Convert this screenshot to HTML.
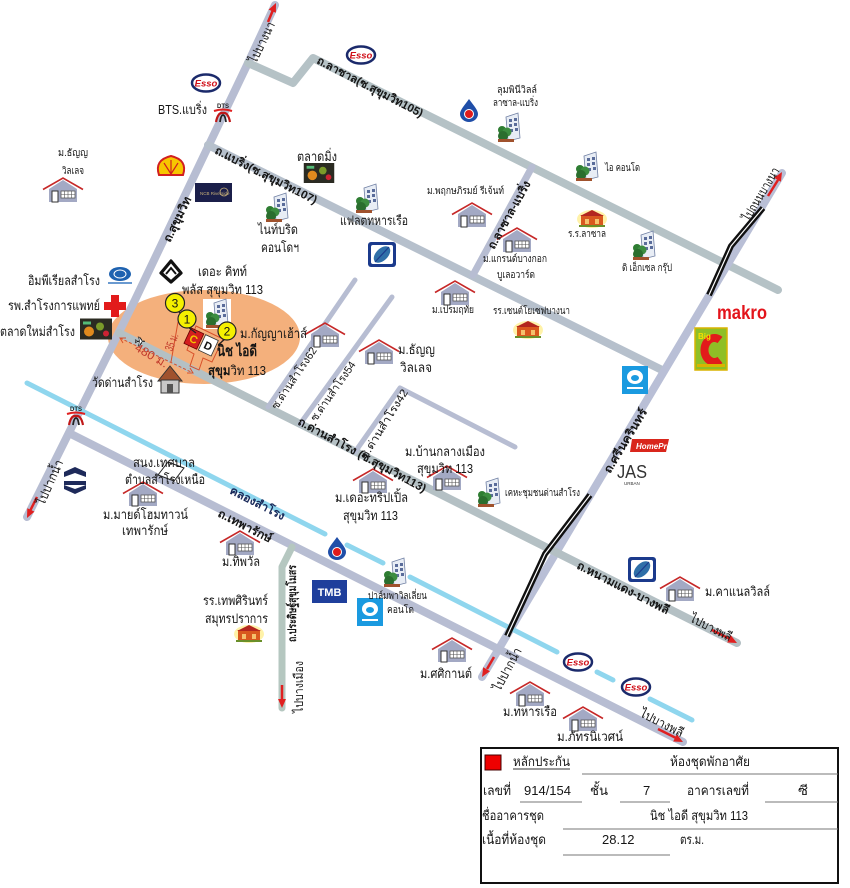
<!DOCTYPE html>
<html><head><meta charset="utf-8"><style>
html,body{margin:0;padding:0;background:#fff;}
svg{display:block;}
text{font-family:"Liberation Sans","DejaVu Sans","Noto Sans CJK SC",sans-serif;fill:#151515;}
.t{font-size:13px;}
.s{font-size:10px;}
.b{font-weight:bold;}
.r{font-size:11.5px;font-weight:bold;}
</style></head><body>
<svg width="850" height="888" viewBox="0 0 850 888" xmlns="http://www.w3.org/2000/svg">
<defs>
<symbol id="house" viewBox="0 0 40 26" overflow="visible">
 <polygon points="6,12 20,3 34,12 34,25 6,25" fill="#a3a9c4"/>
 <polyline points="0,12.5 20,1 40,12.5" fill="none" stroke="#c62828" stroke-width="1.6"/>
 <rect x="9" y="14" width="6" height="11" fill="#fff" stroke="#333" stroke-width="1"/>
 <rect x="18" y="14" width="14" height="7" fill="#fff" stroke="#555" stroke-width="0.8"/>
 <path d="M21.5,14v7M25,14v7M28.5,14v7M18,17.5h14" stroke="#555" stroke-width="0.6"/>
</symbol>
<symbol id="bldg" viewBox="0 0 25 30" overflow="visible">
 <polygon points="9,4 21,0 23,25 11,28" fill="#e8edf5" stroke="#6f7fa3" stroke-width="0.8"/>
 <rect x="12" y="6" width="3" height="3" fill="#5a6c9a"/><rect x="17" y="5" width="3" height="3" fill="#5a6c9a"/>
 <rect x="12" y="11" width="3" height="3" fill="#5a6c9a"/><rect x="17" y="10" width="3" height="3" fill="#5a6c9a"/>
 <rect x="13" y="16" width="3" height="3" fill="#5a6c9a"/><rect x="18" y="15" width="3" height="3" fill="#5a6c9a"/>
 <circle cx="5" cy="17" r="4" fill="#2e7d32"/><circle cx="10" cy="19" r="4.5" fill="#3c8d40"/><circle cx="6" cy="23" r="5" fill="#2a6e2e"/>
 <rect x="1" y="26" width="16" height="3" fill="#a0522d"/>
</symbol>
<symbol id="school" viewBox="0 0 30 20" overflow="visible">
 <ellipse cx="15" cy="11" rx="15" ry="9" fill="#fff2a8"/>
 <rect x="4" y="7" width="22" height="11" fill="#d9581e"/>
 <polygon points="3,8 15,2 27,8" fill="#b3261e"/>
 <rect x="8" y="11" width="4" height="5" fill="#f5c16c"/><rect x="18" y="11" width="4" height="5" fill="#f5c16c"/>
 <rect x="2" y="17" width="26" height="2" fill="#6a8f2a"/>
</symbol>
<symbol id="esso" viewBox="-15 -9 30 18" overflow="visible">
 <ellipse cx="0" cy="0" rx="14" ry="8.5" fill="#fff" stroke="#1b2a6b" stroke-width="2.5"/>
 <text x="0" y="3.5" text-anchor="middle" style="font-size:9.5px;font-weight:bold;font-style:italic;fill:#d0101a">Esso</text>
</symbol>
<symbol id="ptt" viewBox="-9 -12 18 24" overflow="visible">
 <path d="M0,-11 C5,-4 9,0 9,4 A9,8 0 0 1 -9,4 C-9,0 -5,-4 0,-11 Z" fill="#1f4ea8"/>
 <circle cx="0" cy="4" r="5" fill="#fff"/><circle cx="0" cy="4" r="4" fill="#e01b1b"/>
</symbol>
<symbol id="bcp" viewBox="0 0 28 25" overflow="visible">
 <rect x="0" y="0" width="28" height="25" rx="3" fill="#1b3a8c"/>
 <rect x="3" y="3" width="22" height="19" rx="2" fill="#fff"/>
 <ellipse cx="14" cy="12.5" rx="10" ry="6" transform="rotate(-45 14 12.5)" fill="#2f6fa8"/>
 <path d="M7,20 L21,5" stroke="#1b3a8c" stroke-width="1.2"/>
</symbol>
<symbol id="ktb" viewBox="0 0 26 28" overflow="visible">
 <rect x="0" y="0" width="26" height="28" fill="#1a9ae0"/>
 <ellipse cx="13" cy="11" rx="8" ry="7" fill="#fff"/>
 <ellipse cx="13" cy="12" rx="4" ry="3" fill="#1a9ae0"/>
 <rect x="5" y="21" width="16" height="2" fill="#fff"/>
</symbol>
<symbol id="bts" viewBox="0 0 22 20" overflow="visible">
 <text x="11" y="5" text-anchor="middle" style="font-size:6px;font-weight:bold;fill:#222">DTS</text>
 <path d="M2,8 Q11,5 20,8" stroke="#e02020" stroke-width="2" fill="none"/>
 <path d="M4,19 Q6,9 11,10 Q16,9 18,19" stroke="#c01818" stroke-width="2.2" fill="none"/>
 <path d="M8,19 Q9,12 11,12 Q13,12 14,19" stroke="#222" stroke-width="1.8" fill="none"/>
</symbol>
<symbol id="market" viewBox="0 0 32 21" overflow="visible">
 <rect width="32" height="21" fill="#2b2b22"/>
 <circle cx="9" cy="13" r="5" fill="#e08a1e"/><circle cx="20" cy="8" r="4" fill="#7a9a2a"/>
 <circle cx="26" cy="15" r="3" fill="#c23"/><rect x="3" y="3" width="8" height="3" fill="#5b7"/>
</symbol>
</defs>

<!-- orange site ellipse -->
<ellipse cx="204" cy="337" rx="96" ry="47" fill="#f4b07c"/>

<!-- roads -->
<g fill="none" stroke="#b7bdd2" stroke-linecap="round" stroke-linejoin="round">
 <polyline points="275,5 248,63 135,300 27,517" stroke-width="8"/>
 <polyline points="248,63 293,83 313,58 778,290" stroke-width="8" stroke="#b5c2c6"/>
 <polyline points="208,145 662,370" stroke-width="8" stroke="#b6c0cc"/>
 <polyline points="532,167 473,275" stroke-width="7"/>
 <polyline points="782,173 482,677" stroke-width="8" stroke="#b9bfd6"/>
 <polyline points="119,333 737,643" stroke-width="8" stroke="#b4c0c4"/>
 <polyline points="69,433 683,742" stroke-width="8"/>
 <polyline points="355,280 268,407" stroke-width="5"/>
 <polyline points="392,297 300,424" stroke-width="5"/>
 <polyline points="355,452 400,388 515,447" stroke-width="5"/>
 <polyline points="292,547 282,567 282,708" stroke-width="7" stroke="#b5c7c0"/>
</g>

<!-- canal -->
<g stroke="#8fd6ee" stroke-width="5" stroke-linecap="round">
 <line x1="27" y1="383" x2="325" y2="534"/>
 <line x1="347" y1="545" x2="383" y2="563"/>
 <line x1="410" y1="577" x2="557" y2="652"/>
 <line x1="597" y1="672" x2="613" y2="680"/>
 <line x1="650" y1="699" x2="692" y2="720"/>
</g>

<!-- expressway -->
<g fill="none" stroke-linejoin="round">
 <polyline points="763,208 731,246 709,295" stroke="#111" stroke-width="6"/>
 <polyline points="763,208 731,246 709,295" stroke="#fff" stroke-width="1.2"/>
 <polyline points="590,495 545,554 507,636" stroke="#111" stroke-width="6"/>
 <polyline points="590,495 545,554 507,636" stroke="#fff" stroke-width="1.2"/>
</g>

<!-- red arrows -->
<g stroke="#e02020" stroke-width="2.5" fill="#e02020">
 <line x1="268" y1="22" x2="273" y2="10"/><polygon points="276,3 275.9,12.8 268.6,9.6" stroke="none"/>
 <line x1="37" y1="497" x2="30" y2="511"/><polygon points="27,518 34.5,511.6 27.3,508.2" stroke="none"/>
 <line x1="768" y1="196" x2="778" y2="180"/><polygon points="782,172 780.9,181.7 774.1,177.7" stroke="none"/>
 <line x1="494" y1="657" x2="487" y2="669"/><polygon points="482,677 490,671.3 483.2,667.3" stroke="none"/>
 <line x1="712" y1="630" x2="730" y2="639"/><polygon points="737,643 727.2,642.5 730.8,635.3" stroke="none"/>
 <line x1="658" y1="729" x2="676" y2="738"/><polygon points="683,742 673.2,741.5 676.8,734.3" stroke="none"/>
 <line x1="282" y1="685" x2="282" y2="700"/><polygon points="282,708 278,699 286,699" stroke="none"/>
</g>

<!-- houses -->
<use href="#house" x="43" y="177" width="40" height="26"/>
<use href="#house" x="452" y="202" width="40" height="26"/>
<use href="#house" x="497" y="227" width="40" height="26"/>
<use href="#house" x="435" y="280" width="40" height="26"/>
<use href="#house" x="305" y="322" width="40" height="26"/>
<use href="#house" x="359" y="339" width="40" height="26"/>
<use href="#house" x="427" y="465" width="40" height="26"/>
<use href="#house" x="353" y="468" width="40" height="26"/>
<use href="#house" x="123" y="481" width="40" height="26"/>
<use href="#house" x="220" y="530" width="40" height="26"/>
<use href="#house" x="660" y="576" width="40" height="26"/>
<use href="#house" x="432" y="637" width="40" height="26"/>
<use href="#house" x="510" y="681" width="40" height="26"/>
<use href="#house" x="563" y="706" width="40" height="26"/>

<!-- buildings -->
<use href="#bldg" x="497" y="113" width="25" height="30"/>
<use href="#bldg" x="575" y="152" width="25" height="30"/>
<use href="#bldg" x="632" y="231" width="25" height="30"/>
<use href="#bldg" x="265" y="193" width="25" height="30"/>
<use href="#bldg" x="355" y="184" width="25" height="30"/>
<rect x="203" y="299" width="28" height="30" fill="#fff"/>
<use href="#bldg" x="205" y="299" width="25" height="30"/>
<use href="#bldg" x="477" y="478" width="25" height="30"/>
<use href="#bldg" x="383" y="558" width="25" height="30"/>

<!-- schools -->
<use href="#school" x="577" y="208" width="30" height="20"/>
<use href="#school" x="513" y="319" width="30" height="20"/>
<use href="#school" x="234" y="623" width="30" height="20"/>

<!-- logos -->
<use href="#esso" x="191" y="74" width="30" height="18"/>
<use href="#esso" x="346" y="46" width="30" height="18"/>
<use href="#esso" x="563" y="653" width="30" height="18"/>
<use href="#esso" x="621" y="678" width="30" height="18"/>
<use href="#ptt" x="460" y="98" width="18" height="24"/>
<use href="#ptt" x="328" y="536" width="18" height="24"/>
<use href="#bcp" x="368" y="242" width="28" height="25"/>
<use href="#bcp" x="628" y="557" width="28" height="25"/>
<use href="#ktb" x="622" y="366" width="26" height="28"/>
<use href="#ktb" x="357" y="598" width="26" height="28"/>
<use href="#bts" x="212" y="103" width="22" height="20"/>
<use href="#bts" x="65" y="406" width="22" height="20"/>
<use href="#market" x="303" y="163" width="32" height="20"/>
<use href="#market" x="80" y="318" width="32" height="22"/>

<!-- shell -->
<path d="M159,175 Q154,160 171,156 Q188,160 183,175 Z" fill="#f7c600" stroke="#d21f1f" stroke-width="2"/>
<path d="M171,174 L171,160 M171,174 L164,163 M171,174 L178,163" stroke="#d21f1f" stroke-width="1.2"/>
<!-- NCB -->
<rect x="195" y="183" width="37" height="19" fill="#1b1f4a"/>
<text x="200" y="195" style="font-size:4.5px;fill:#c9b27a">NCB Riverside</text>
<circle cx="224" cy="192" r="4" fill="none" stroke="#c9b27a" stroke-width="0.8"/>
<!-- imperial -->
<ellipse cx="120" cy="274" rx="11" ry="7" fill="#1e62b0"/>
<ellipse cx="120" cy="274" rx="6" ry="4" fill="none" stroke="#fff" stroke-width="1"/>
<rect x="108" y="282" width="24" height="2" fill="#6a9ad0"/>
<!-- BBL -->
<path d="M171,261 L181,273 L171,282 L161,273 Z" fill="none" stroke="#111" stroke-width="3.2" stroke-linejoin="round"/>
<path d="M166,274 L171,268 L176,274" fill="none" stroke="#111" stroke-width="2"/>
<!-- red cross -->
<rect x="111" y="295" width="8" height="22" fill="#e21b1b"/>
<rect x="104" y="302" width="22" height="8" fill="#e21b1b"/>
<!-- temple -->
<polygon points="158,381 170,366 182,381" fill="#a0522d" stroke="#333" stroke-width="1"/>
<rect x="161" y="380" width="18" height="13" fill="#c8c8c8" stroke="#333" stroke-width="1"/>
<rect x="167" y="384" width="6" height="9" fill="#555"/>
<!-- emblem -->
<g fill="#1e2a5a">
 <path d="M64,472 L75,467 L86,472 L86,477 L75,473 L64,477 Z"/>
 <path d="M64,481 L86,481 L86,485 L64,485 Z"/>
 <path d="M64,489 L75,494 L86,489 L86,485 L75,489 L64,485 Z"/>
</g>
<!-- small office box -->
<polygon points="158,475 168,462 184,468 174,481" fill="#fff" fill-opacity="0.6" stroke="#222" stroke-width="1"/>
<!-- makro / BigC -->
<text x="717" y="319" style="font-size:19px;font-weight:bold;fill:#e3141b" textLength="50" lengthAdjust="spacingAndGlyphs">makro</text>
<rect x="695" y="328" width="32" height="42" fill="#8fbf26" stroke="#d9b400" stroke-width="1.5"/>
<path d="M720,340 A10,12 0 1 0 720,360" fill="none" stroke="#e21b1b" stroke-width="8"/>
<text x="698" y="339" style="font-size:8px;font-weight:bold;fill:#f5e000">Big</text>
<rect x="697" y="364" width="28" height="3" fill="#d9b400"/>
<!-- homepro -->
<polygon points="632,439 669,439 666,452 630,452" fill="#d9261c"/>
<text x="636" y="449" style="font-size:8px;font-weight:bold;font-style:italic;fill:#fff">HomePro</text>
<!-- JAS -->
<text x="617" y="478" style="font-size:18px;fill:#333" textLength="30" lengthAdjust="spacingAndGlyphs">JAS</text>
<text x="624" y="485" style="font-size:4.5px;fill:#333">URBAN</text>
<!-- TMB -->
<rect x="312" y="580" width="35" height="23" fill="#1f3f9c"/>
<text x="329.5" y="596" text-anchor="middle" style="font-size:11px;font-weight:bold;fill:#fff">TMB</text>

<!-- site -->
<g fill="none" stroke="#d8502a" stroke-width="1">
 <line x1="120" y1="338" x2="193" y2="373" stroke-dasharray="3,2"/>
 <polyline points="126,338 120,338 123,343"/>
 <polyline points="187,373 193,373 190,368"/>
 <line x1="178" y1="322" x2="171" y2="362"/>
 <polygon points="196,326 223,339 212,362 203,358 199,370 190,366 194,354 187,350"/>
</g>
<g transform="translate(200,342) rotate(25)">
 <rect x="-14" y="-9" width="14" height="17" fill="#d31f1f" stroke="#600" stroke-width="0.8"/>
 <text x="-7" y="4" text-anchor="middle" style="font-size:11px;font-weight:bold;fill:#f5c400">C</text>
 <rect x="2" y="-9" width="14" height="17" fill="#fff" stroke="#333" stroke-width="0.8"/>
 <text x="9" y="4" text-anchor="middle" style="font-size:11px;font-weight:bold;fill:#111">D</text>
</g>
<text x="140" y="346" text-anchor="middle" style="font-size:13px;fill:#fff;stroke:#222;stroke-width:0.6">✈</text>
<g stroke="#222" stroke-width="1.2">
 <line x1="178" y1="311" x2="186" y2="319"/>
 <line x1="188" y1="327" x2="196" y2="333"/>
 <line x1="225" y1="339" x2="218" y2="345"/>
</g>
<circle cx="175" cy="303" r="9.5" fill="#f5f000" stroke="#222" stroke-width="1.2"/>
<circle cx="187" cy="319" r="9" fill="#f5f000" stroke="#222" stroke-width="1.2"/>
<circle cx="227" cy="331" r="9" fill="#f5f000" stroke="#222" stroke-width="1.2"/>
<text x="175" y="307.5" text-anchor="middle" style="font-size:12px;">3</text>
<text x="187" y="323.5" text-anchor="middle" style="font-size:12px;">1</text>
<text x="227" y="335.5" text-anchor="middle" style="font-size:12px;">2</text>

<!-- horizontal labels 13px -->
<g class="t">
<text x="158" y="114" textLength="49" lengthAdjust="spacingAndGlyphs">BTS.แบริ่ง</text>
<text x="297" y="161" textLength="40" lengthAdjust="spacingAndGlyphs">ตลาดมิ่ง</text>
<text x="258" y="234" textLength="40" lengthAdjust="spacingAndGlyphs">ไนท์บริด</text>
<text x="261" y="252" textLength="38" lengthAdjust="spacingAndGlyphs">คอนโดฯ</text>
<text x="340" y="225" textLength="68" lengthAdjust="spacingAndGlyphs">แฟลตทหารเรือ</text>
<text x="28" y="285" textLength="72" lengthAdjust="spacingAndGlyphs">อิมพีเรียลสำโรง</text>
<text x="198" y="276" textLength="49" lengthAdjust="spacingAndGlyphs">เดอะ คิทท์</text>
<text x="182" y="294" textLength="81" lengthAdjust="spacingAndGlyphs">พลัส สุขุมวิท 113</text>
<text x="8" y="310" textLength="92" lengthAdjust="spacingAndGlyphs">รพ.สำโรงการแพทย์</text>
<text x="0" y="336" textLength="75" lengthAdjust="spacingAndGlyphs">ตลาดใหม่สำโรง</text>
<text x="240" y="338" textLength="67" lengthAdjust="spacingAndGlyphs">ม.กัญญาเฮ้าส์</text>
<text x="398" y="354" textLength="37" lengthAdjust="spacingAndGlyphs">ม.ธัญญ</text>
<text x="400" y="372" textLength="32" lengthAdjust="spacingAndGlyphs">วิลเลจ</text>
<text x="92" y="387" textLength="61" lengthAdjust="spacingAndGlyphs">วัดด่านสำโรง</text>
<text x="405" y="456" textLength="80" lengthAdjust="spacingAndGlyphs">ม.บ้านกลางเมือง</text>
<text x="417" y="473" textLength="56" lengthAdjust="spacingAndGlyphs">สุขุมวิท 113</text>
<text x="335" y="502" textLength="73" lengthAdjust="spacingAndGlyphs">ม.เดอะทริปเปิ้ล</text>
<text x="343" y="520" textLength="55" lengthAdjust="spacingAndGlyphs">สุขุมวิท 113</text>
<text x="133" y="467" textLength="62" lengthAdjust="spacingAndGlyphs">สนง.เทศบาล</text>
<text x="125" y="484" textLength="80" lengthAdjust="spacingAndGlyphs">ตำบลสำโรงเหนือ</text>
<text x="103" y="519" textLength="85" lengthAdjust="spacingAndGlyphs">ม.มายด์โฮมทาวน์</text>
<text x="122" y="535" textLength="46" lengthAdjust="spacingAndGlyphs">เทพารักษ์</text>
<text x="222" y="566" textLength="38" lengthAdjust="spacingAndGlyphs">ม.ทิพวัล</text>
<text x="203" y="605" textLength="65" lengthAdjust="spacingAndGlyphs">รร.เทพศิรินทร์</text>
<text x="205" y="623" textLength="63" lengthAdjust="spacingAndGlyphs">สมุทรปราการ</text>
<text x="420" y="678" textLength="52" lengthAdjust="spacingAndGlyphs">ม.ศศิกานต์</text>
<text x="503" y="716" textLength="54" lengthAdjust="spacingAndGlyphs">ม.ทหารเรือ</text>
<text x="557" y="741" textLength="66" lengthAdjust="spacingAndGlyphs">ม.ภัทรนิเวศน์</text>
<text x="705" y="596" textLength="65" lengthAdjust="spacingAndGlyphs">ม.คาแนลวิลล์</text>
</g>
<text x="217" y="356" style="font-size:15px;font-weight:bold" textLength="40" lengthAdjust="spacingAndGlyphs">นิช ไอดี</text>
<text x="208" y="375" style="font-size:13px" textLength="58" lengthAdjust="spacingAndGlyphs"><tspan font-weight="bold">สุขุม</tspan>วิท 113</text>

<!-- small labels -->
<g class="s">
<text x="58" y="156" textLength="30" lengthAdjust="spacingAndGlyphs">ม.ธัญญ</text>
<text x="62" y="174" textLength="22" lengthAdjust="spacingAndGlyphs">วิลเลจ</text>
<text x="497" y="93" textLength="40" lengthAdjust="spacingAndGlyphs">ลุมพินีวิลล์</text>
<text x="493" y="106" textLength="45" lengthAdjust="spacingAndGlyphs">ลาซาล-แบริ่ง</text>
<text x="605" y="171" textLength="35" lengthAdjust="spacingAndGlyphs">ไอ คอนโด</text>
<text x="427" y="194" textLength="77" lengthAdjust="spacingAndGlyphs">ม.พฤกษภิรมย์ รีเจ้นท์</text>
<text x="483" y="262" textLength="64" lengthAdjust="spacingAndGlyphs">ม.แกรนด์บางกอก</text>
<text x="497" y="278" textLength="38" lengthAdjust="spacingAndGlyphs">บูเลอวาร์ด</text>
<text x="568" y="237" textLength="38" lengthAdjust="spacingAndGlyphs">ร.ร.ลาซาล</text>
<text x="622" y="271" textLength="50" lengthAdjust="spacingAndGlyphs">ดิ เอ็กเซล กรุ๊ป</text>
<text x="432" y="313" textLength="42" lengthAdjust="spacingAndGlyphs">ม.เปรมฤทัย</text>
<text x="493" y="314" textLength="77" lengthAdjust="spacingAndGlyphs">รร.เซนต์โยเซฟบางนา</text>
<text x="505" y="496" textLength="75" lengthAdjust="spacingAndGlyphs">เคหะชุมชนด่านสำโรง</text>
<text x="368" y="599" textLength="59" lengthAdjust="spacingAndGlyphs">ปาล์มพาวิลเลี่ยน</text>
<text x="387" y="613" textLength="27" lengthAdjust="spacingAndGlyphs">คอนโด</text>
</g>

<!-- rotated road labels -->
<g class="r">
<text transform="translate(316,63) rotate(27.5)" textLength="118" lengthAdjust="spacingAndGlyphs">ถ.ลาซาล(ซ.สุขุมวิท105)</text>
<text transform="translate(214,153) rotate(27)" textLength="113" lengthAdjust="spacingAndGlyphs">ถ.แบริ่ง(ซ.สุขุมวิท107)</text>
<text transform="translate(170,243) rotate(-64)" textLength="49" lengthAdjust="spacingAndGlyphs">ถ.สุขุมวิท</text>
<text transform="translate(494,250) rotate(-61)" textLength="76" lengthAdjust="spacingAndGlyphs">ถ.ลาซาล-แบริ่ง</text>
<text transform="translate(610,474) rotate(-59)" textLength="73" lengthAdjust="spacingAndGlyphs">ถ.ศรีนครินทร์</text>
<text transform="translate(297,424) rotate(28.5)" textLength="144" lengthAdjust="spacingAndGlyphs">ถ.ด่านสำโรง (ซ.สุขุมวิท113)</text>
<text transform="translate(229,493) rotate(27)" textLength="60" lengthAdjust="spacingAndGlyphs" style="fill:#1a2a5a">คลองสำโรง</text>
<text transform="translate(217,516) rotate(27)" textLength="59" lengthAdjust="spacingAndGlyphs">ถ.เทพารักษ์</text>
<text transform="translate(576,568) rotate(27)" textLength="102" lengthAdjust="spacingAndGlyphs">ถ.หนามแดง-บางพลี</text>
<text transform="translate(296,642) rotate(-90)" textLength="77" lengthAdjust="spacingAndGlyphs">ถ.ประดิษฐ์สุขุมโมสร</text>
</g>
<g style="font-size:11px">
<text transform="translate(277,410) rotate(-56)" textLength="72" lengthAdjust="spacingAndGlyphs">ซ.ด่านสำโรง62</text>
<text transform="translate(316,422) rotate(-55)" textLength="70" lengthAdjust="spacingAndGlyphs">ซ.ด่านสำโรง54</text>
<text transform="translate(366,460) rotate(-58)" textLength="80" lengthAdjust="spacingAndGlyphs">ซ.ด่านสำโรง42</text>
</g>
<g style="font-size:12.5px">
<text transform="translate(256,64) rotate(-64)" textLength="44" lengthAdjust="spacingAndGlyphs">ไปบางนา</text>
<text transform="translate(749,222) rotate(-59)" textLength="60" lengthAdjust="spacingAndGlyphs">ไปถนนบางนา</text>
<text transform="translate(689,621) rotate(27)" textLength="45" lengthAdjust="spacingAndGlyphs">ไปบางพลี</text>
<text transform="translate(639,716) rotate(27)" textLength="47" lengthAdjust="spacingAndGlyphs">ไปบางพลี</text>
<text transform="translate(500,692) rotate(-62)" textLength="47" lengthAdjust="spacingAndGlyphs">ไปปากน้ำ</text>
<text transform="translate(44,506) rotate(-66)" textLength="48" lengthAdjust="spacingAndGlyphs">ไปปากน้ำ</text>
<text transform="translate(303,713) rotate(-90)" textLength="52" lengthAdjust="spacingAndGlyphs">ไปบางเมือง</text>
</g>
<g style="font-size:12px;fill:#c0392b">
<text transform="translate(172,352) rotate(-68)" style="fill:#c0392b" textLength="18" lengthAdjust="spacingAndGlyphs">35 ม.</text>
<text transform="translate(134,350) rotate(30)" style="fill:#c0392b" textLength="36" lengthAdjust="spacingAndGlyphs">480 ม.</text>
</g>

<!-- table -->
<rect x="481" y="748" width="357" height="135" fill="#fff" stroke="#111" stroke-width="2"/>
<rect x="485" y="755" width="16" height="15" fill="#e00" stroke="#400" stroke-width="1"/>
<g stroke="#777" stroke-width="1">
 <line x1="582" y1="774" x2="838" y2="774"/>
 <line x1="520" y1="802" x2="582" y2="802"/>
 <line x1="620" y1="802" x2="670" y2="802"/>
 <line x1="765" y1="802" x2="838" y2="802"/>
 <line x1="563" y1="829" x2="838" y2="829"/>
 <line x1="563" y1="855" x2="670" y2="855"/>
 <line x1="513" y1="769" x2="570" y2="769" stroke="#333"/>
</g>
<g class="t">
<text x="513" y="766" textLength="57" lengthAdjust="spacingAndGlyphs">หลักประกัน</text>
<text x="670" y="766" textLength="80" lengthAdjust="spacingAndGlyphs">ห้องชุดพักอาศัย</text>
<text x="483" y="795" textLength="28" lengthAdjust="spacingAndGlyphs">เลขที่</text>
<text x="524" y="795">914/154</text>
<text x="590" y="795" textLength="18" lengthAdjust="spacingAndGlyphs">ชั้น</text>
<text x="643" y="795">7</text>
<text x="687" y="795" textLength="62" lengthAdjust="spacingAndGlyphs">อาคารเลขที่</text>
<text x="798" y="795" textLength="10" lengthAdjust="spacingAndGlyphs">ซี</text>
<text x="482" y="820" textLength="62" lengthAdjust="spacingAndGlyphs">ชื่ออาคารชุด</text>
<text x="650" y="820" textLength="98" lengthAdjust="spacingAndGlyphs">นิช ไอดี สุขุมวิท 113</text>
<text x="482" y="844" textLength="64" lengthAdjust="spacingAndGlyphs">เนื้อที่ห้องชุด</text>
<text x="602" y="844">28.12</text>
<text x="680" y="844" textLength="24" lengthAdjust="spacingAndGlyphs">ตร.ม.</text>
</g>
</svg>
</body></html>
